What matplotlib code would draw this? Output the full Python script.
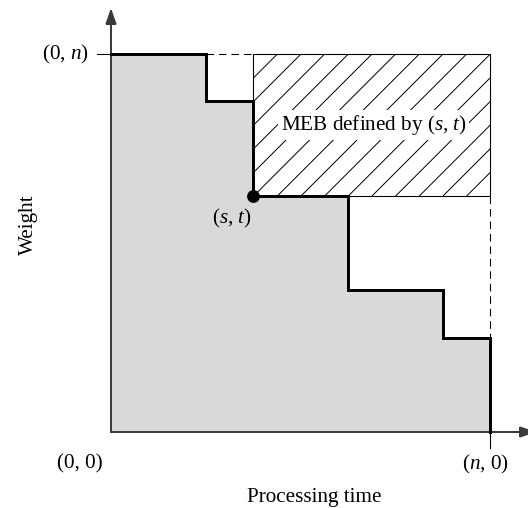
import matplotlib
matplotlib.use("Agg")
import matplotlib.pyplot as plt
from matplotlib.patches import Rectangle

# --------------------------
# DATA
# --------------------------
n = 1.0
step_x = [0.0, 0.25, 0.375, 0.625, 0.875, 1.0]      # processing-time breakpoints
step_y = [1.0, 0.875, 0.625, 0.375, 0.25]           # weight level on each step
s, t = 0.375, 0.625                                 # corner point of the MEB

axis_labels = ["Processing time", "Weight"]
corner_labels = ["(0, $n$)", "(0, 0)", "($n$, 0)"]
point_label = "($s$, $t$)"
box_label = "MEB defined by ($s$, $t$)"

# --------------------------
# STYLE
# --------------------------
plt.rcParams["font.family"] = ["Liberation Serif", "DejaVu Serif"]
plt.rcParams["mathtext.fontset"] = "custom"
plt.rcParams["mathtext.rm"] = "Liberation Serif"
plt.rcParams["mathtext.it"] = "Liberation Serif:italic"
plt.rcParams["hatch.linewidth"] = 0.5

DPI = 142
fig = plt.figure(figsize=(528 / DPI, 508 / DPI), dpi=DPI)
ax = fig.add_axes([0, 0, 1, 1])
ax.set_xlim(-111 / 379, 417 / 379)
ax.set_ylim(-76 / 378, 432 / 378)
ax.axis("off")

fs = 10.7
thin = 0.55
axis_col = "#3a3a3a"

# --------------------------
# SHADED STAIRCASE REGION
# --------------------------
ax.stairs(step_y, step_x, fill=True, baseline=0, color="#d9d9d9", lw=0, zorder=1)

# MEB box (hatched)
meb = Rectangle((s, t), n - s, n - t, fill=False, hatch="//", edgecolor="black",
                lw=thin, zorder=2)
ax.add_patch(meb)

# dashed extensions
ax.plot([step_x[1], s], [n, n], color="black", lw=thin, dashes=(7, 4.5), zorder=2)
ax.plot([n, n], [t, step_y[-1]], color="black", lw=thin, dashes=(7, 4.5), zorder=2)

# staircase outline
ax.plot(step_x, step_y + [0.0], drawstyle="steps-post", color="black", lw=1.5,
        solid_joinstyle="miter", zorder=4)

# the point (s, t)
ax.plot([s], [t], "o", color="black", markersize=5.5, zorder=5)

# --------------------------
# AXES WITH ARROWS
# --------------------------
arrow = dict(arrowstyle="-|>,head_length=0.66,head_width=0.23", mutation_scale=10,
             color=axis_col, lw=1.0, shrinkA=0, shrinkB=0)
ax.annotate("", xy=(0, 424 / 378), xytext=(0, 0), arrowprops=arrow,
            annotation_clip=False, zorder=3)
ax.annotate("", xy=(425 / 379, 0), xytext=(0, 0), arrowprops=arrow,
            annotation_clip=False, zorder=3)

# little tick marks
ax.plot([-14 / 379, 0], [n, n], color="black", lw=thin, zorder=3)
ax.plot([n, n], [0, -16 / 378], color="black", lw=thin, zorder=3)

# --------------------------
# TEXT
# --------------------------
ax.text(-0.058, n, corner_labels[0], fontsize=fs, ha="right", va="center")
ax.text(-0.082, -0.085, corner_labels[1], fontsize=fs, ha="center", va="center")
ax.text(n - 0.011, -0.085, corner_labels[2], fontsize=fs, ha="center", va="center")
ax.text(s - 0.056, t - 0.059, point_label, fontsize=fs, ha="center", va="center")
ax.text(0.6926, 0.812, box_label, fontsize=fs, ha="center", va="center", zorder=6,
        bbox=dict(facecolor="white", edgecolor="none", pad=1.5))
ax.text(0.5356, -0.172, axis_labels[0], fontsize=fs, ha="center", va="center")
ax.text(-0.219, 0.548, axis_labels[1], fontsize=fs, ha="center", va="center",
        rotation=90)

fig.savefig("out.png", dpi=DPI)
